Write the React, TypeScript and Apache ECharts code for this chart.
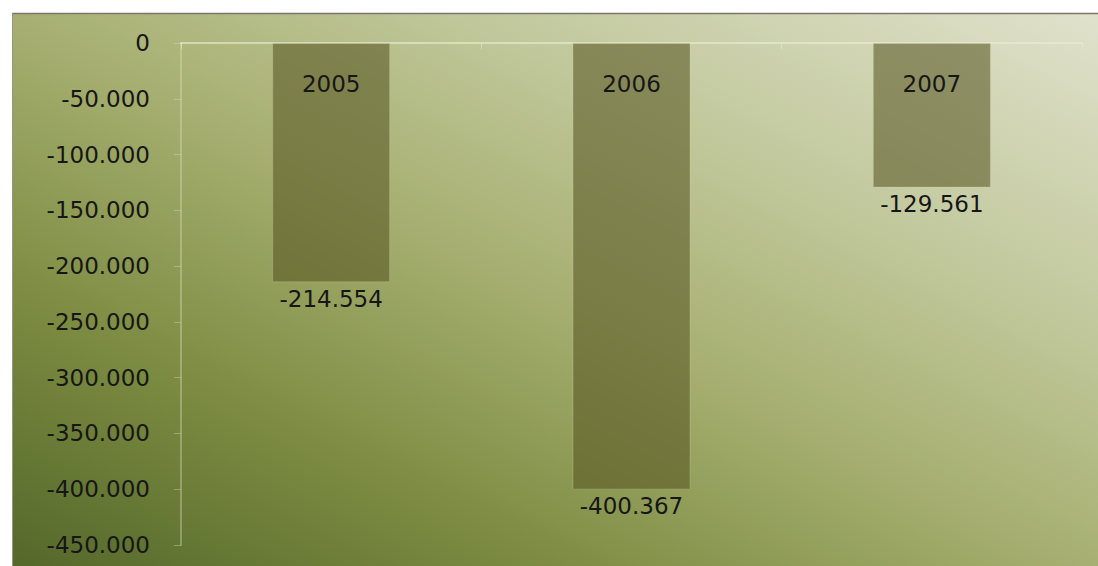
import React, { useEffect, useRef } from "react";
import * as echarts from "echarts";

const categories = ["2005", "2006", "2007"];
const values = [-214554, -400367, -129561];
const yMin = -450000;
const yMax = 0;
const yInterval = 50000;

function fmt(v: number): string {
  const neg = v < 0;
  const s = Math.abs(Math.round(v)).toString().replace(/\B(?=(\d{3})+(?!\d))/g, ".");
  return (neg ? "-" : "") + s;
}

export default function App() {
  const ref = useRef<HTMLDivElement>(null);
  useEffect(() => {
    if (!ref.current) return;
    const chart = echarts.init(ref.current, null, { renderer: "svg" });
    const font = "DejaVu Sans";
    const fs = 23;
    chart.setOption({
      animation: false,
      backgroundColor: "#ffffff",
      graphic: [
        {
          type: "rect",
          z: -10,
          silent: true,
          shape: { x: 12, y: 13, width: 1086, height: 553 },
          style: {
            fill: new echarts.graphic.LinearGradient(1, 0, 0, 1, [
              { offset: 0, color: "#e0e2cc" },
              { offset: 0.3, color: "#c0c79a" },
              { offset: 0.5, color: "#a7b072" },
              { offset: 0.75, color: "#7d8c42" },
              { offset: 1, color: "#54682a" },
            ]),
          },
        },
        {
          type: "line",
          z: -5,
          silent: true,
          shape: { x1: 12, y1: 13.5, x2: 1098, y2: 13.5 },
          style: { stroke: "#7d746c", lineWidth: 1.5 },
        },
        {
          type: "line",
          z: -5,
          silent: true,
          shape: { x1: 12.5, y1: 13, x2: 12.5, y2: 566 },
          style: { stroke: "#9a948c", lineWidth: 1 },
        },
      ],
      grid: { left: 181, right: 16, top: 43, bottom: 21, containLabel: false },
      xAxis: {
        type: "category",
        data: categories,
        position: "top",
        axisLine: { show: true, onZero: true, lineStyle: { color: "rgba(235,238,215,0.6)", width: 2 } },
        axisTick: { show: true, inside: true, length: 6, lineStyle: { color: "rgba(235,238,215,0.5)" } },
        axisLabel: { show: false },
        splitLine: { show: false },
      },
      yAxis: {
        type: "value",
        min: yMin,
        max: yMax,
        interval: yInterval,
        axisLine: { show: true, lineStyle: { color: "rgba(225,230,200,0.35)", width: 2 } },
        axisTick: { show: true, length: 7, lineStyle: { color: "rgba(225,230,200,0.35)" } },
        splitLine: { show: false },
        axisLabel: {
          margin: 31,
          color: "#161616",
          fontFamily: font,
          fontSize: fs,
          formatter: (v: number) => fmt(v),
        },
      },
      series: [
        {
          type: "bar",
          data: values,
          barWidth: 118,
          itemStyle: {
            color: "rgba(86,83,32,0.56)",
            borderColor: "rgba(210,212,170,0.3)",
            borderWidth: 1,
          },
          label: {
            show: true,
            position: "bottom",
            distance: 5,
            color: "#161616",
            fontFamily: font,
            fontSize: fs,
            formatter: (p: any) => fmt(p.value),
          },
        },
        {
          type: "bar",
          data: values,
          barWidth: 118,
          barGap: "-100%",
          itemStyle: { color: "rgba(0,0,0,0)" },
          label: {
            show: true,
            position: "insideTop",
            distance: 29,
            color: "#161616",
            fontFamily: font,
            fontSize: fs,
            formatter: (p: any) => p.name,
          },
        },
      ],
    });
    return () => chart.dispose();
  }, []);
  return (
    <div
      ref={ref}
      style={{ position: "fixed", left: 0, top: 0, width: 1098, height: 566 }}
    />
  );
}
